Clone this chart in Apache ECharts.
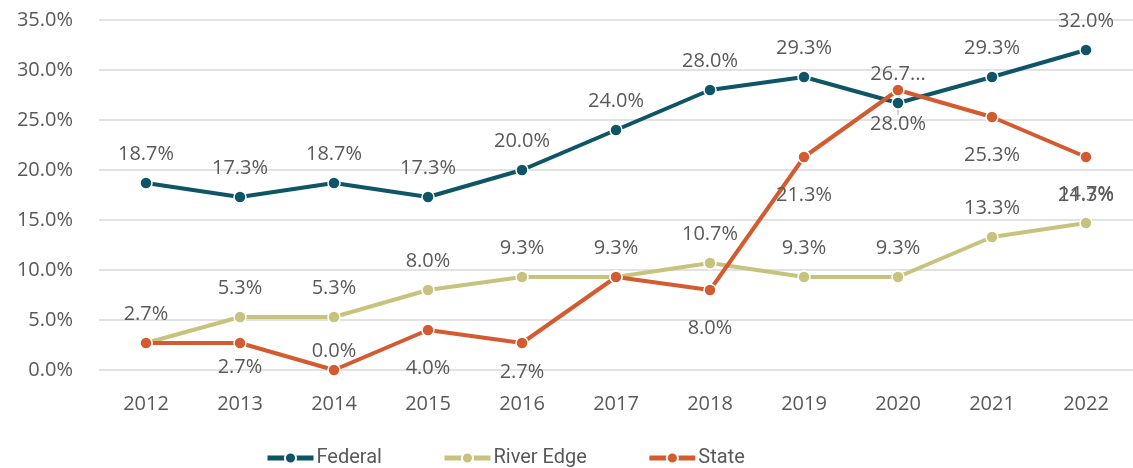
<!DOCTYPE html>
<html>
<head>
<meta charset="utf-8">
<script src="https://cdn.jsdelivr.net/npm/echarts@6/dist/echarts.min.js"></script>
<style>
  html, body { margin: 0; padding: 0; background: #ffffff; }
  #chart { width: 1133px; height: 468px; }
</style>
</head>
<body>
<div id="chart"></div>
<script>
// Share of cases by year, in percent
const years = ['2012', '2013', '2014', '2015', '2016', '2017', '2018', '2019', '2020', '2021', '2022'];
const federal = [18.7, 17.3, 18.7, 17.3, 20.0, 24.0, 28.0, 29.3, 26.7, 29.3, 32.0];
const riverEdge = [2.7, 5.3, 5.3, 8.0, 9.3, 9.3, 10.7, 9.3, 9.3, 13.3, 14.7];
const state = [2.7, 2.7, 0.0, 4.0, 2.7, 9.3, 8.0, 21.3, 28.0, 25.3, 21.3];
const seriesNames = ['Federal', 'River Edge', 'State'];

const colors = ['#0d5567', '#c7c37d', '#d45a2f'];
const textColor = '#595959';
const font = '"Open Sans", sans-serif';

const pct = v => v.toFixed(1) + '%';

function baseLabel(position, distance) {
  return {
    show: true,
    position: position,
    distance: distance,
    color: textColor,
    fontFamily: font,
    fontSize: 20,
    formatter: p => pct(p.value)
  };
}

// Federal: 2020 label is clipped with an ellipsis
const federalData = federal.map((v, i) => {
  if (i === 8) {
    return { value: v, label: { formatter: p => pct(p.value).slice(0, -1) + '...' } };
  }
  return v;
});

// State: labels sit below the points, with a few exceptions
const stateData = state.map((v, i) => {
  if (i === 0 || i === 5) return { value: v, label: { show: false } };
  if (i === 1) return { value: v, label: { distance: 8 } };
  if (i === 2) return { value: v, label: { position: 'top', distance: 2 } };
  if (i === 4) return { value: v, label: { distance: 13 } };
  if (i === 8) {
    return {
      value: v,
      label: { distance: 12 },
      labelLine: { show: true, lineStyle: { color: '#bfbfbf', width: 1.5 } }
    };
  }
  return v;
});

function lineSeries(name, data, color, label, extra) {
  return Object.assign({
    name: name,
    type: 'line',
    data: data,
    color: color,
    symbol: 'circle',
    symbolSize: 12,
    lineStyle: { width: 4, color: color },
    itemStyle: { color: color, borderColor: '#ffffff', borderWidth: 1.5 },
    label: label,
    emphasis: { disabled: true },
    animation: false
  }, extra || {});
}

const chart = echarts.init(document.getElementById('chart'), null, { renderer: 'canvas' });

chart.setOption({
  backgroundColor: '#ffffff',
  grid: { left: 99, right: -4, top: 20, bottom: 98, containLabel: false },
  legend: {
    data: seriesNames,
    bottom: -5,
    left: 260,
    itemWidth: 46,
    itemHeight: 14,
    itemGap: 60,
    lineStyle: { width: 5, color: 'inherit' },
    textStyle: { color: textColor, fontFamily: 'Roboto, sans-serif', fontSize: 20, padding: [0, 0, 0, -2] }
  },
  xAxis: {
    type: 'category',
    data: years,
    boundaryGap: true,
    axisLine: { show: false },
    axisTick: { show: false },
    axisLabel: { color: textColor, fontFamily: font, fontSize: 20, margin: 24 }
  },
  yAxis: {
    type: 'value',
    min: 0,
    max: 35,
    interval: 5,
    axisLine: { show: false },
    axisTick: { show: false },
    splitLine: { lineStyle: { color: '#d9d9d9', width: 1.5 } },
    axisLabel: { color: textColor, fontFamily: font, fontSize: 20, margin: 26, formatter: v => pct(v) }
  },
  series: [
    lineSeries(seriesNames[0], federalData, colors[0], baseLabel('top', 12)),
    lineSeries(seriesNames[1], riverEdge, colors[1], baseLabel('top', 12)),
    lineSeries(seriesNames[2], stateData, colors[2], baseLabel('bottom', 22), {
      labelLayout: p => (p.dataIndex === 8 ? { dy: 6 } : {})
    })
  ]
});
</script>
</body>
</html>
